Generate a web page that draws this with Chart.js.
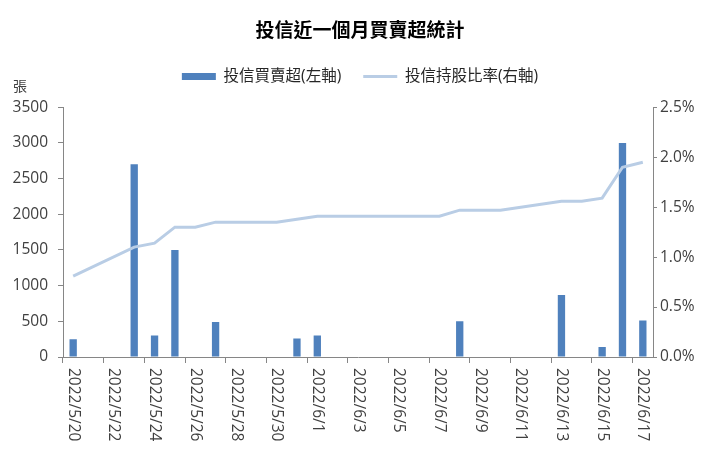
<!DOCTYPE html>
<html>
<head>
<meta charset="utf-8">
<script src="https://cdn.jsdelivr.net/npm/chart.js@4.4.1/dist/chart.umd.min.js"></script>
<style>
  html, body { margin: 0; padding: 0; background: #fff; }
</style>
</head>
<body>
<canvas id="chart" width="720" height="456"></canvas>
<script>
// 日期 (含週末，週末/休市為 null)
const dates = [
  '2022/5/20', '2022/5/21', '2022/5/22', '2022/5/23', '2022/5/24', '2022/5/25', '2022/5/26',
  '2022/5/27', '2022/5/28', '2022/5/29', '2022/5/30', '2022/5/31', '2022/6/1', '2022/6/2',
  '2022/6/3', '2022/6/4', '2022/6/5', '2022/6/6', '2022/6/7', '2022/6/8', '2022/6/9',
  '2022/6/10', '2022/6/11', '2022/6/12', '2022/6/13', '2022/6/14', '2022/6/15', '2022/6/16',
  '2022/6/17'
];
// 投信買賣超 (張)
const netBuy = [
  250, null, null, 2700, 300, 1500, 0,
  490, null, null, 0, 260, 300, 0,
  null, null, null, 0, 0, 500, 0,
  0, null, null, 870, 0, 140, 3000,
  510
];
// 投信持股比率 (%)
const holdRatio = [
  0.81, null, null, 1.10, 1.14, 1.30, 1.30,
  1.35, null, null, 1.35, 1.38, 1.41, 1.41,
  null, null, null, 1.41, 1.41, 1.47, 1.47,
  1.47, null, null, 1.56, 1.56, 1.59, 1.90,
  1.95
];
const leftMax = 3500, leftStep = 500;
const rightMax = 2.5, rightStep = 0.5;

const FONT = '"Open Sans", "Noto Sans CJK TC", sans-serif';
const BAR_COLOR = '#4f81bd';
const LINE_COLOR = '#b9cde5';
const AXIS_COLOR = '#868686';
const TEXT_COLOR = '#404040';

Chart.defaults.font.family = FONT;
Chart.defaults.color = TEXT_COLOR;

// 圖例下方留白
const legendGap = {
  id: 'legendGap',
  beforeLayout(chart) {
    const lg = chart.legend;
    if (lg && !lg._gapped) {
      const fit = lg.fit;
      lg.fit = function () { fit.call(this); this.height += 13; };
      lg._gapped = true;
    }
  }
};

// 單位與直排日期標籤
const extraText = {
  id: 'extraText',
  afterDraw(chart) {
    const ctx = chart.ctx;
    const xs = chart.scales.x;
    ctx.save();
    ctx.fillStyle = TEXT_COLOR;
    ctx.font = '14px ' + FONT;
    ctx.textAlign = 'center';
    ctx.textBaseline = 'middle';
    ctx.fillText('張', 20, 87);

    ctx.font = '15.5px ' + FONT;
    ctx.textAlign = 'left';
    dates.forEach((d, i) => {
      if (i % 2 !== 0) return;
      const x = xs.getPixelForValue(i);
      ctx.save();
      ctx.translate(x, chart.chartArea.bottom + 11);
      ctx.rotate(Math.PI / 2);
      ctx.fillText(d, 0, 0);
      ctx.restore();
    });
    ctx.restore();
  }
};

new Chart(document.getElementById('chart'), {
  type: 'bar',
  data: {
    labels: dates,
    datasets: [
      {
        type: 'bar',
        label: '投信買賣超(左軸)',
        data: netBuy,
        backgroundColor: BAR_COLOR,
        yAxisID: 'y',
        barPercentage: 0.36,
        categoryPercentage: 1,
        order: 2
      },
      {
        type: 'line',
        label: '投信持股比率(右軸)',
        data: holdRatio,
        borderColor: LINE_COLOR,
        backgroundColor: LINE_COLOR,
        borderWidth: 3,
        pointRadius: 0,
        spanGaps: true,
        tension: 0,
        yAxisID: 'y1',
        order: 1
      }
    ]
  },
  options: {
    responsive: false,
    animation: false,
    layout: { padding: 0 },
    plugins: {
      title: {
        display: true,
        text: '投信近一個月買賣超統計',
        color: '#000',
        font: { size: 19, weight: 'bold' },
        padding: { top: 20, bottom: 4 }
      },
      legend: {
        position: 'top',
        labels: {
          usePointStyle: true,
          pointStyleWidth: 34,
          boxHeight: 7,
          padding: 22,
          color: '#262626',
          font: { size: 15.5 },
          sort: (a, b) => a.datasetIndex - b.datasetIndex,
          generateLabels(chart) {
            const items = Chart.defaults.plugins.legend.labels.generateLabels(chart);
            items.forEach(it => {
              if (it.datasetIndex === 0) {
                it.pointStyle = 'rect';
                it.fillStyle = BAR_COLOR;
                it.strokeStyle = BAR_COLOR;
                it.lineWidth = 0;
              } else {
                it.pointStyle = 'line';
                it.strokeStyle = LINE_COLOR;
                it.lineWidth = 3;
              }
            });
            return items;
          }
        }
      },
      tooltip: { enabled: false }
    },
    scales: {
      x: {
        offset: true,
        grid: {
          offset: true,
          drawOnChartArea: false,
          drawTicks: true,
          tickLength: 6,
          tickColor: c => (c.index % 2 === 0 ? AXIS_COLOR : 'rgba(0,0,0,0)')
        },
        border: { color: AXIS_COLOR },
        ticks: { display: false, autoSkip: false },
        afterFit: s => { s.height = 99; }
      },
      y: {
        position: 'left',
        min: 0,
        max: leftMax,
        ticks: { stepSize: leftStep, padding: 10, font: { size: 15.5 }, callback: v => String(v) },
        grid: { drawOnChartArea: false, tickLength: 5, tickColor: AXIS_COLOR },
        border: { color: AXIS_COLOR },
        afterFit: s => { s.width = 63; }
      },
      y1: {
        position: 'right',
        min: 0,
        max: rightMax,
        ticks: {
          stepSize: rightStep,
          padding: 3,
          font: { size: 15.5 },
          callback: v => v.toFixed(1) + '%'
        },
        grid: { drawOnChartArea: false, tickLength: 4, tickColor: AXIS_COLOR },
        border: { color: AXIS_COLOR },
        afterFit: s => { s.width = 67; }
      }
    }
  },
  plugins: [legendGap, extraText]
});
</script>
</body>
</html>
